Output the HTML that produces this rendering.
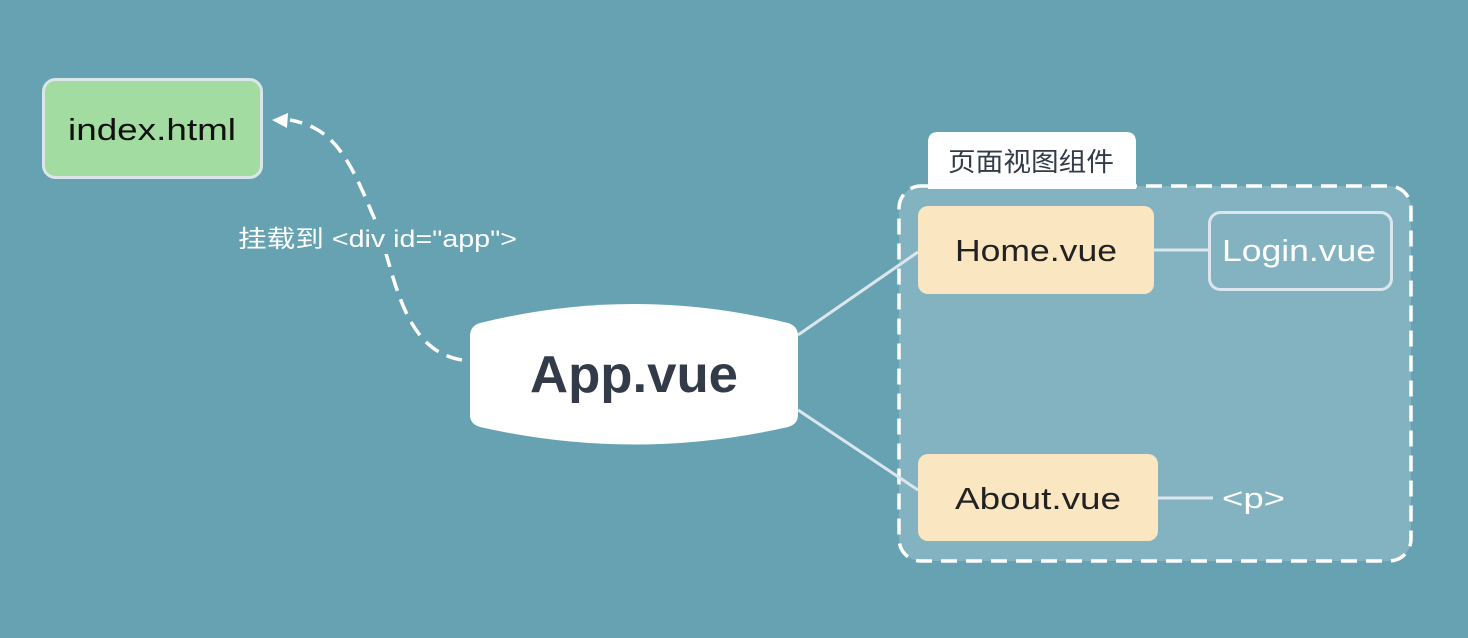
<!DOCTYPE html>
<html><head><meta charset="utf-8"><style>
html,body{margin:0;padding:0;background:#66a2b2;}
svg{display:block}
text{font-family:"Liberation Sans","Noto Sans CJK SC",sans-serif;}
</style></head><body>
<svg width="1468" height="638" viewBox="0 0 1468 638" xmlns="http://www.w3.org/2000/svg">
<rect width="1468" height="638" fill="#66a2b2"/>
<rect x="899" y="186" width="512" height="375" rx="22" fill="#83b3c0" stroke="#fff" stroke-width="3.5" stroke-dasharray="16 9"/>
<path d="M928 189 V142 Q928 132 938 132 H1126 Q1136 132 1136 142 V189 Z" fill="#fff"/>
<text x="948" y="171" font-size="26" fill="#333b48" textLength="166" lengthAdjust="spacingAndGlyphs">页面视图组件</text>
<line x1="798" y1="335" x2="918" y2="252" stroke="#dbe6ee" stroke-width="3"/>
<line x1="798" y1="410" x2="918" y2="490" stroke="#dbe6ee" stroke-width="3"/>
<line x1="1154" y1="250" x2="1208" y2="250" stroke="#dbe6ee" stroke-width="3"/>
<line x1="1158" y1="498" x2="1213" y2="498" stroke="#dbe6ee" stroke-width="3"/>
<path d="M462 360 C400 350 395 270 375 220 C350 160 335 128 290 120" fill="none" stroke="#fff" stroke-width="3.5" stroke-dasharray="16 9"/>
<polygon points="272,120 288,113 287,128" fill="#fff"/>
<rect x="236" y="222" width="284" height="32" fill="#66a2b2"/>
<text x="238" y="247" font-size="24" fill="#fff" textLength="279" lengthAdjust="spacingAndGlyphs">挂载到 &lt;div id="app"&gt;</text>
<rect x="43.5" y="79.5" width="218" height="98" rx="12" fill="#a2dca0" stroke="#dbe6ea" stroke-width="3"/>
<text x="68" y="140" font-size="31" fill="#111" textLength="168" lengthAdjust="spacingAndGlyphs">index.html</text>
<path d="M480 323 Q634 285 788 323 Q798 326 798 336 V415 Q798 424 788 427 Q634 462 480 427 Q470 424 470 415 V336 Q470 326 480 323 Z" fill="#fff"/>
<text x="530" y="392" font-size="52" font-weight="bold" fill="#333b48" textLength="208" lengthAdjust="spacingAndGlyphs">App.vue</text>
<rect x="918" y="206" width="236" height="88" rx="10" fill="#fbe6c2"/>
<text x="955" y="261" font-size="31" fill="#222" textLength="162" lengthAdjust="spacingAndGlyphs">Home.vue</text>
<rect x="1209.5" y="212.5" width="182" height="77" rx="11" fill="none" stroke="#dbe6ee" stroke-width="3"/>
<text x="1222" y="261" font-size="31" fill="#fff" textLength="154" lengthAdjust="spacingAndGlyphs">Login.vue</text>
<rect x="918" y="454" width="240" height="87" rx="10" fill="#fbe6c2"/>
<text x="955" y="509" font-size="31" fill="#222" textLength="166" lengthAdjust="spacingAndGlyphs">About.vue</text>
<text x="1222" y="508" font-size="29" fill="#fff" textLength="63" lengthAdjust="spacingAndGlyphs">&lt;p&gt;</text>
</svg>
</body></html>
